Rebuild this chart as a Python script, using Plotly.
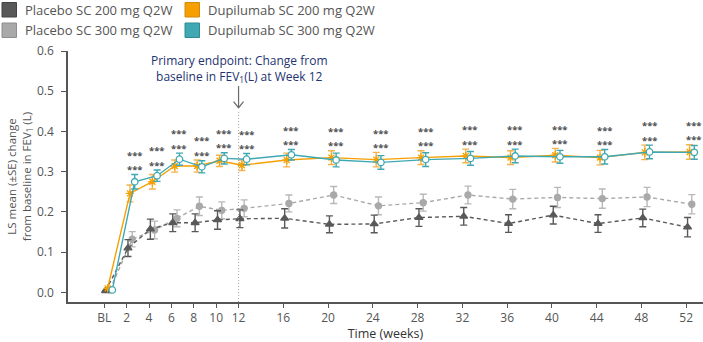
import plotly.graph_objects as go

# ---------------- data ----------------
weeks = [0, 2, 4, 6, 8, 10, 12, 16, 20, 24, 28, 32, 36, 40, 44, 48, 52]
tick_text = ["BL", "2", "4", "6", "8", "10", "12", "16", "20", "24", "28", "32",
             "36", "40", "44", "48", "52"]

placebo200 = [0.004, 0.110, 0.157, 0.173, 0.173, 0.180, 0.183, 0.184, 0.169, 0.170,
              0.186, 0.189, 0.171, 0.192, 0.171, 0.185, 0.162]
placebo200_se = [0.0, 0.021, 0.025, 0.022, 0.022, 0.023, 0.022, 0.024, 0.021, 0.022,
                 0.022, 0.022, 0.022, 0.022, 0.022, 0.022, 0.024]

placebo300 = [0.006, 0.132, 0.155, 0.184, 0.214, 0.204, 0.209, 0.221, 0.242, 0.215,
              0.223, 0.242, 0.232, 0.236, 0.233, 0.237, 0.219]
placebo300_se = [0.0, 0.019, 0.022, 0.021, 0.023, 0.021, 0.021, 0.021, 0.021, 0.022,
                 0.021, 0.022, 0.024, 0.025, 0.024, 0.024, 0.024]

dupi200 = [0.010, 0.246, 0.275, 0.314, 0.314, 0.327, 0.316, 0.329, 0.335, 0.330,
           0.335, 0.339, 0.335, 0.341, 0.335, 0.348, 0.349]
dupi200_se = [0.0, 0.021, 0.018, 0.015, 0.015, 0.014, 0.013, 0.017, 0.017, 0.018,
              0.017, 0.017, 0.017, 0.017, 0.018, 0.018, 0.018]

dupi300 = [0.006, 0.275, 0.290, 0.331, 0.312, 0.333, 0.331, 0.342, 0.329, 0.323,
           0.330, 0.333, 0.339, 0.337, 0.337, 0.349, 0.348]
dupi300_se = [0.0, 0.018, 0.014, 0.015, 0.015, 0.014, 0.014, 0.013, 0.017, 0.017,
              0.017, 0.017, 0.017, 0.016, 0.018, 0.017, 0.017]

sig_label = "***"
sig_weeks = weeks[1:]

legend_names = ["Placebo SC 200 mg Q2W", "Placebo SC 300 mg Q2W",
                "Dupilumab SC 200 mg Q2W", "Dupilumab SC 300 mg Q2W"]

# ---------------- styles ----------------
C_P200 = "#595959"
C_P300 = "#a9a9a9"
C_D200 = "#f5a000"
C_D300 = "#3fa8b3"
TXT = "#555555"
NAVY = "#233372"
FONT = "Open Sans"

W, H = 703, 342
ML, MR, MT, MB = 68, 0, 51, 40
X_RANGE = [-3.24, 53.5]
Y_RANGE = [-0.024, 0.6]

OFF_P200, OFF_D200, OFF_P300, OFF_D300 = 0.12, 0.30, 0.50, 0.72


def px_x(p):
    return (p - ML) / (W - ML - MR)


def px_y(p):
    return (H - MB - p) / (H - MB - MT)


fig = go.Figure()


def add_series(y, se, off, color, err_color, symbol, msize, mcolor, mline, dash):
    fig.add_trace(go.Scatter(
        x=[w + off for w in weeks], y=y,
        mode="lines+markers",
        line=dict(color=color, width=1.4, dash=dash),
        marker=dict(symbol=symbol, size=msize, color=mcolor,
                    line=dict(color=mline, width=1.3)),
        error_y=dict(type="data", array=se, visible=True, color=err_color,
                     thickness=1.4, width=3.5),
        showlegend=False, cliponaxis=False,
    ))


add_series(placebo300, placebo300_se, OFF_P300, C_P300, "#b8b8b8", "circle", 6,
           C_P300, C_P300, "4px,3px")
add_series(placebo200, placebo200_se, OFF_P200, C_P200, C_P200, "triangle-up", 7,
           C_P200, C_P200, "4px,3px")
add_series(dupi200, dupi200_se, OFF_D200, C_D200, "#f6b24a", "asterisk-open", 7,
           C_D200, C_D200, "solid")
add_series(dupi300, dupi300_se, OFF_D300, C_D300, C_D300, "circle", 6.5,
           "white", C_D300, "solid")

shapes = []
annotations = []

# significance stars
for i, w in enumerate(weeks):
    if w not in sig_weeks:
        continue
    base = max(dupi200[i] + dupi200_se[i], dupi300[i] + dupi300_se[i]) + 0.017
    for yy in (base, base + 0.036):
        annotations.append(dict(x=w + OFF_D300, y=yy, xref="x", yref="y",
                                text="<b>" + sig_label + "</b>", showarrow=False,
                                font=dict(family=FONT, size=9.5, color="#505050"),
                                xanchor="center", yanchor="middle", yshift=-2))

# week 12 reference line + arrow
shapes.append(dict(type="line", xref="x", yref="y", x0=12, x1=12, y0=Y_RANGE[0],
                   y1=0.452, line=dict(color="#a8a8a8", width=1, dash="1px,2px")))
shapes.append(dict(type="line", xref="x", yref="y", x0=12, x1=12, y0=0.459,
                   y1=0.513, line=dict(color="#6a6a6a", width=1.2)))
shapes.append(dict(type="path", xref="x", yref="y", xsizemode="pixel",
                   ysizemode="pixel", xanchor=12, yanchor=0.459,
                   path="M-5,6 L0,0 L5,6",
                   line=dict(color="#6a6a6a", width=1.2)))
annotations.append(dict(x=12, y=0.557, xref="x", yref="y",
                        text="Primary endpoint: Change from<br>baseline in FEV<sub>1</sub>(L) at Week 12",
                        showarrow=False, align="center", xanchor="center",
                        yanchor="middle",
                        font=dict(family=FONT, size=12, color=NAVY)))

# legend (boxes + labels)
leg_colors = [(C_P200, "#444444"), (C_P300, "#8e8e8e"),
              (C_D200, "#d08a10"), (C_D300, "#2f8a93")]
leg_pos = [(2, 2.5), (2, 23), (185, 2.5), (185, 23)]
for (name, (fill, border), (lx, ly)) in zip(legend_names, leg_colors, leg_pos):
    shapes.append(dict(type="rect", xref="paper", yref="paper",
                       x0=px_x(lx), x1=px_x(lx + 14.5),
                       y0=px_y(ly + 14.5), y1=px_y(ly),
                       fillcolor=fill, line=dict(color=border, width=1)))
    annotations.append(dict(x=px_x(lx + 21), y=px_y(ly + 7.3), xref="paper",
                            yref="paper", text=name, showarrow=False,
                            xanchor="left", yanchor="middle",
                            font=dict(family=FONT, size=13, color=TXT)))

fig.update_layout(
    width=W, height=H,
    margin=dict(l=ML, r=MR, t=MT, b=MB, pad=0),
    paper_bgcolor="white", plot_bgcolor="white",
    font=dict(family=FONT, size=11, color=TXT),
    shapes=shapes, annotations=annotations,
    xaxis=dict(range=X_RANGE, tickmode="array", tickvals=weeks, ticktext=tick_text,
               showgrid=False, zeroline=False, showline=True, linecolor="#555555",
               linewidth=1.5, ticks="outside", ticklen=4, tickwidth=1,
               tickcolor="#555555", tickfont=dict(size=12, color=TXT),
               title=dict(text="Time (weeks)", standoff=5,
                          font=dict(size=12.5, color="#333333"))),
    yaxis=dict(range=Y_RANGE, tickmode="array",
               tickvals=[0, 0.1, 0.2, 0.3, 0.4, 0.5, 0.6],
               ticktext=["0.0", "0.1", "0.2", "0.3", "0.4", "0.5", "0.6"],
               showgrid=False, zeroline=False, showline=True, linecolor="#555555",
               linewidth=1.5, ticks="outside", ticklen=5, tickwidth=1,
               tickcolor="#555555", ticklabelstandoff=5,
               tickfont=dict(size=12, color=TXT),
               title=dict(text="LS mean (±SE) change<br>from baseline in FEV<sub>1</sub> (L)",
                          standoff=3, font=dict(size=11.5, color=TXT))),
)

fig.write_html("out.html")
